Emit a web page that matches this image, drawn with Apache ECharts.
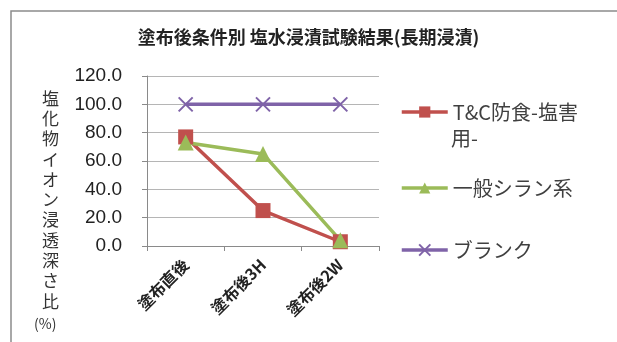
<!DOCTYPE html>
<html><head><meta charset="utf-8">
<script src="https://cdn.jsdelivr.net/npm/echarts@6/dist/echarts.min.js"></script>
<style>html,body{margin:0;padding:0;background:#fff}#c{width:617px;height:342px}</style>
</head><body><div id="c"></div>
<script>
const categories = ['塗布直後', '塗布後3H', '塗布後2W'];
const seriesNames = ['T&C防食-塩害用-', '一般シラン系', 'ブランク'];
const tcValues = [77, 25, 3];
const silaneValues = [73, 65, 4];
const blankValues = [100, 100, 100];
const yTicks = [0, 20, 40, 60, 80, 100, 120];
const titleText = '塗布後条件別 塩水浸漬試験結果(長期浸漬)';
const yAxisTitle = '塩化物イオン浸透深さ比';
const yAxisUnit = '(%)';
const legendFirstLine = 'T&C防食-塩害';
const legendSecondLine = '用-';

const FONT = '"Noto Sans CJK JP", "Noto Sans", sans-serif';
const chart = echarts.init(document.getElementById('c'));
const colors = ['#C0504D', '#9BBB59', '#7F63A8'];
const xPath = 'path://M0,0L10,10M10,0L0,10';
const legendText = { fontFamily: FONT, fontSize: 20, color: '#404040', lineHeight: 31 };

function legendFor(i, top, extra) {
  return Object.assign({
    data: [seriesNames[i]], orient: 'vertical', left: 400, top: top, padding: 0,
    itemWidth: 46, itemHeight: 14, itemGap: 0, textStyle: legendText,
    lineStyle: { width: 3.5 }
  }, extra || {});
}

chart.setOption({
  animation: false,
  backgroundColor: '#fff',
  color: colors,
  title: {
    text: titleText, left: 'center', top: 23,
    textStyle: { fontFamily: FONT, fontSize: 18, fontWeight: 'bold', color: '#222' }
  },
  legend: [
    legendFor(0, 96.5, { formatter: () => legendFirstLine }),
    legendFor(1, 172.5),
    legendFor(2, 234.5)
  ],
  grid: { left: 147, right: 238, top: 76, bottom: 96 },
  xAxis: {
    type: 'category', data: categories, boundaryGap: true,
    axisLine: { lineStyle: { color: '#8a8a8a', width: 1 } },
    axisTick: { show: true, length: 5, lineStyle: { color: '#8a8a8a' } },
    axisLabel: { rotate: 45, margin: 16, fontFamily: FONT, fontSize: 16, fontWeight: 'bold', color: '#222' }
  },
  yAxis: {
    type: 'value', min: yTicks[0], max: yTicks[yTicks.length - 1], interval: 20,
    axisLine: { show: true, lineStyle: { color: '#8a8a8a', width: 1 } },
    axisTick: { show: true, length: 5, lineStyle: { color: '#8a8a8a' } },
    splitLine: { lineStyle: { color: '#b5b5b5', width: 1 } },
    axisLabel: { margin: 25, fontFamily: '"Liberation Sans", Arial, sans-serif', fontSize: 19, color: '#222', formatter: v => v.toFixed(1) }
  },
  graphic: [
    { type: 'rect', shape: { x: 11, y: 11, width: 700, height: 400 }, style: { fill: 'none', stroke: '#8c8c8c', lineWidth: 1.5 }, silent: true, z: -1 },
    { type: 'text', left: 42, top: 88, style: { text: yAxisTitle.split('').join('\n'), fontFamily: FONT, fontSize: 17, lineHeight: 20.3, fill: '#333', align: 'center' } },
    { type: 'text', left: 34, top: 317, style: { text: yAxisUnit, fontFamily: FONT, fontSize: 14, fill: '#333' } },
    { type: 'text', left: 451, top: 128, style: { text: legendSecondLine, fontFamily: FONT, fontSize: 20, fill: '#404040' } }
  ],
  series: [
    { name: seriesNames[0], type: 'line', data: tcValues, symbol: 'rect', symbolSize: 15,
      lineStyle: { width: 3.5, color: colors[0] }, itemStyle: { color: colors[0] } },
    { name: seriesNames[1], type: 'line', data: silaneValues, symbol: 'triangle', symbolSize: 16,
      lineStyle: { width: 3.5, color: colors[1] }, itemStyle: { color: colors[1] } },
    { name: seriesNames[2], type: 'line', data: blankValues, symbol: xPath, symbolSize: 14,
      lineStyle: { width: 3.5, color: colors[2] }, itemStyle: { color: colors[2], borderColor: colors[2], borderWidth: 2 } }
  ]
});
</script></body></html>
